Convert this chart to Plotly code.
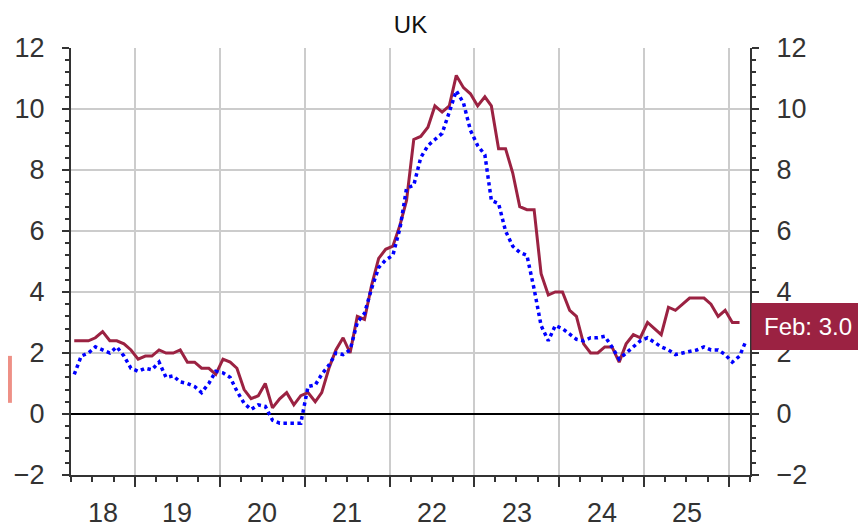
import pandas as pd
import plotly.graph_objects as go

# UK inflation, % y/y, monthly from Apr 2018
cpi = [2.4, 2.4, 2.4, 2.5, 2.7, 2.4, 2.4, 2.3, 2.1,
       1.8, 1.9, 1.9, 2.1, 2.0, 2.0, 2.1, 1.7, 1.7, 1.5, 1.5, 1.3,
       1.8, 1.7, 1.5, 0.8, 0.5, 0.6, 1.0, 0.2, 0.5, 0.7, 0.3, 0.6,
       0.7, 0.4, 0.7, 1.5, 2.1, 2.5, 2.0, 3.2, 3.1, 4.2, 5.1, 5.4,
       5.5, 6.2, 7.0, 9.0, 9.1, 9.4, 10.1, 9.9, 10.1, 11.1, 10.7, 10.5,
       10.1, 10.4, 10.1, 8.7, 8.7, 7.9, 6.8, 6.7, 6.7, 4.6, 3.9, 4.0,
       4.0, 3.4, 3.2, 2.3, 2.0, 2.0, 2.2, 2.2, 1.7, 2.3, 2.6, 2.5,
       3.0, 2.8, 2.6, 3.5, 3.4, 3.6, 3.8, 3.8, 3.8, 3.6, 3.2, 3.4,
       3.0, 3.0]

other = [1.3, 1.9, 2.0, 2.2, 2.1, 2.0, 2.2, 1.9, 1.5,
         1.4, 1.5, 1.45, 1.7, 1.2, 1.25, 1.05, 1.0, 0.9, 0.7, 1.0, 1.4,
         1.35, 1.2, 0.75, 0.35, 0.15, 0.3, 0.25, -0.2, -0.3, -0.3, -0.3, -0.3,
         0.9, 0.95, 1.3, 1.6, 2.0, 1.95, 2.1, 3.0, 3.3, 4.1, 4.8, 5.05,
         5.2, 6.1, 7.4, 7.5, 8.4, 8.8, 9.0, 9.2, 9.9, 10.6, 10.2, 9.3,
         8.8, 8.5, 7.0, 6.9, 6.0, 5.5, 5.3, 5.2, 4.1, 2.9, 2.4, 2.9,
         2.8, 2.6, 2.45, 2.4, 2.5, 2.5, 2.55, 2.2, 1.8, 2.0, 2.2, 2.4,
         2.5, 2.35, 2.2, 2.1, 1.95, 2.0, 2.05, 2.1, 2.2, 2.1, 2.1, 1.95,
         1.7, 1.9, 2.4]

year_labels = ["18", "19", "20", "21", "22", "23", "24", "25"]
label_dates = ["2018-08-16"] + [f"20{y}-07-02" for y in year_labels[1:]]

start = "2018-04-01"
dates_cpi = pd.date_range(start, periods=len(cpi), freq="MS") + pd.Timedelta(days=14)
dates_other = pd.date_range(start, periods=len(other), freq="MS") + pd.Timedelta(days=14)

RED = "#9B2242"
FONT = "Liberation Sans, Arial, sans-serif"
AX = "#333333"
GRID = "#CCCCCC"
FS = 27

fig = go.Figure()
fig.add_trace(go.Scatter(x=dates_cpi, y=cpi, mode="lines",
                         line=dict(color=RED, width=3), yaxis="y"))
fig.add_trace(go.Scatter(x=dates_other, y=other, mode="lines",
                         line=dict(color="#0000FF", width=3.5, dash="dot"), yaxis="y2"))

yax = dict(range=[-2, 12], dtick=2, tick0=0, ticks="outside", ticklen=7, tickwidth=2,
           tickcolor=AX, showline=True, linecolor=AX, linewidth=2, automargin=False,
           minor=dict(dtick=0.4, ticks="outside", ticklen=4, tickwidth=1.5, tickcolor=AX, showgrid=False),
           tickfont=dict(family=FONT, size=FS, color=AX), ticklabelstandoff=12)

# page body has an 8px margin, so the figure sits 8px in from the top-left
fig.update_layout(
    template="none",
    width=858, height=520,
    margin=dict(l=63, r=116, t=40, b=53, autoexpand=False),
    paper_bgcolor="white", plot_bgcolor="white",
    showlegend=False,
    font=dict(family=FONT, color=AX),
    title=dict(text="UK", x=0.5, xref="paper", xanchor="center", y=0.969, yanchor="middle",
               font=dict(family=FONT, size=24, color="#111111")),
    xaxis=dict(type="date", range=["2018-04-01", "2026-04-01"], dtick="M12", tick0="2018-01-01",
               showticklabels=False, ticks="outside", ticklen=10, tickwidth=2, tickcolor=AX,
               showgrid=True, gridcolor=GRID, gridwidth=1.5, automargin=False,
               showline=True, linecolor=AX, linewidth=2, zeroline=False,
               minor=dict(dtick="M3", tick0="2018-01-01", ticks="outside", ticklen=5,
                          tickwidth=1.5, tickcolor=AX, showgrid=False)),
    yaxis=dict(**yax, side="left", showgrid=True, gridcolor=GRID, gridwidth=1.5,
               zeroline=True, zerolinecolor="black", zerolinewidth=1.5),
    yaxis2=dict(**yax, side="right", overlaying="y", showgrid=False, zeroline=False),
)

for d, t in zip(label_dates, year_labels):
    fig.add_annotation(x=d, xref="x", y=-0.089, yref="paper", text=t, showarrow=False,
                       yanchor="middle", font=dict(family=FONT, size=FS, color=AX))

# latest value tag on the right
fig.add_shape(type="rect", xref="paper", yref="paper", x0=1.002, x1=1.2, y0=0.293, y1=0.403,
              fillcolor=RED, line=dict(width=0), layer="above")
fig.add_annotation(x=1.018, xref="paper", y=0.348, yref="paper", xanchor="left", yanchor="middle",
                   text=f"Feb: {cpi[-1]:.1f}", showarrow=False,
                   font=dict(family=FONT, size=24, color="white"))

# cut-off tag on the left edge
fig.add_shape(type="rect", xref="paper", yref="paper", x0=-0.093, x1=-0.087, y0=0.169, y1=0.279,
              fillcolor="#EE9086", line=dict(width=0), layer="above")

fig.write_html("out.html")
